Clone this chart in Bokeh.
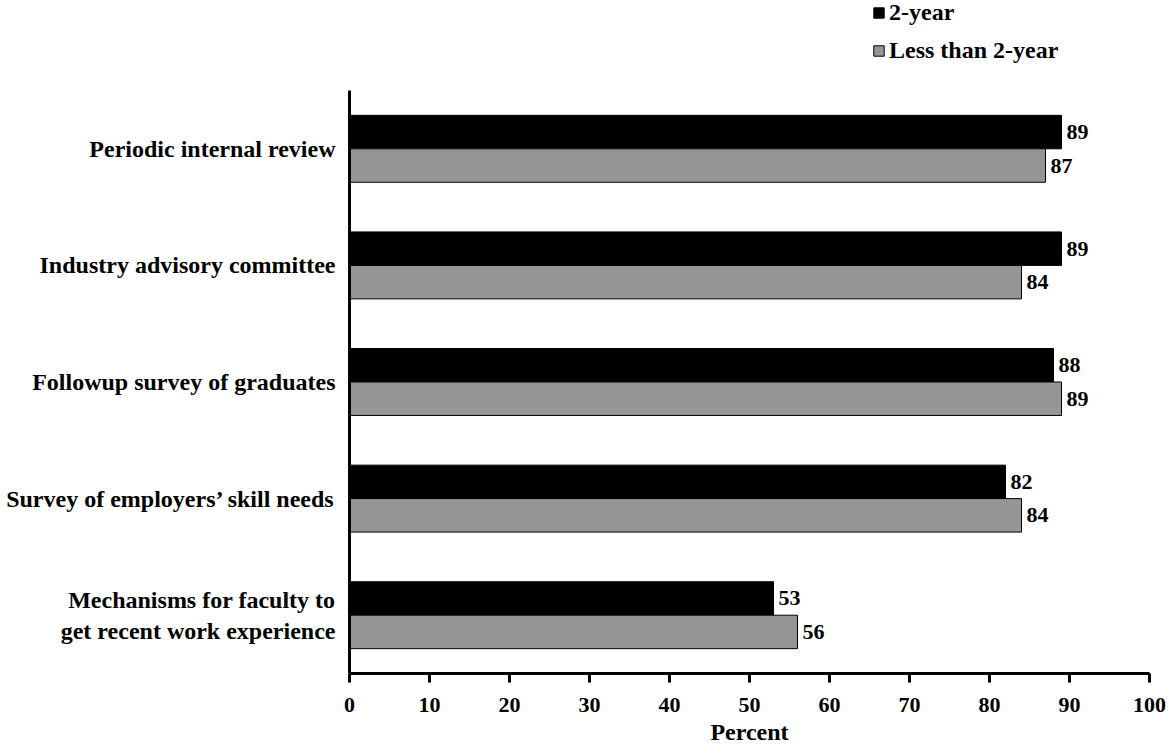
from bokeh.plotting import figure
from bokeh.models import Range1d, Legend, LegendItem, ColumnDataSource, FixedTicker
from bokeh.core.properties import value
from bokeh.embed import file_html
from bokeh.resources import INLINE

categories = [
    "Periodic internal review",
    "Industry advisory committee",
    "Followup survey of graduates",
    "Survey of employers\u2019 skill needs",
    "Mechanisms for faculty to\nget recent work experience",
]
two_year = [89, 89, 88, 82, 53]
less_than_two_year = [87, 84, 89, 84, 56]
series_names = ["2-year", "Less than 2-year"]
x_ticks = list(range(0, 101, 10))

FONT = "Liberation Serif"
FS = "24px"
FS_NUM = "22px"

n = len(categories)
pos = [n - 0.5 - i for i in range(n)]
bh = 0.287
off = bh / 2

src = ColumnDataSource(dict(
    pos=pos,
    ya=[v + off for v in pos],
    yb=[v - off for v in pos],
    a=two_year,
    b=less_than_two_year,
    a_lbl=[str(v) for v in two_year],
    b_lbl=[str(v) for v in less_than_two_year],
))

p = figure(
    width=1169, height=753,
    y_range=Range1d(0, n + 90 / 116.6), x_range=Range1d(0, 100),
    output_backend="svg", toolbar_location=None,
    min_border_left=349, min_border_right=20,
    min_border_top=0, min_border_bottom=80,
)
p.outline_line_color = None
p.xgrid.grid_line_color = None
p.ygrid.grid_line_color = None

r1 = p.hbar(y="ya", right="a", left=0, height=bh, source=src,
            fill_color="black", line_color="black", line_width=1)
r2 = p.hbar(y="yb", right="b", left=0, height=bh, source=src,
            fill_color="#969696", line_color="black", line_width=1)

for col, lbl, yc in (("a", "a_lbl", "ya"), ("b", "b_lbl", "yb")):
    p.text(x=col, y=yc, text=lbl, source=src,
           x_offset=5, text_baseline="middle", text_align="left",
           text_font=value(FONT), text_font_style="bold", text_font_size=FS_NUM,
           text_color="black")

# x axis
xa = p.xaxis[0]
xa.ticker = FixedTicker(ticks=x_ticks)
xa.axis_line_width = 3
xa.major_tick_line_width = 3
xa.major_tick_in = 0
xa.major_tick_out = 9
xa.minor_tick_line_color = None
xa.major_label_text_font = FONT
xa.major_label_text_font_style = "bold"
xa.major_label_text_font_size = FS_NUM
xa.major_label_text_color = "black"
xa.major_label_standoff = 15
xa.axis_label = "Percent"
xa.axis_label_text_font = FONT
xa.axis_label_text_font_style = "bold"
xa.axis_label_text_font_size = FS
xa.axis_label_text_color = "black"
xa.axis_label_standoff = 4

# y axis
ya = p.yaxis[0]
ya.ticker = FixedTicker(ticks=pos)
ya.major_label_overrides = {pv: c for pv, c in zip(pos, categories)}
ya.bounds = (0, n)
ya.axis_line_width = 3
ya.major_tick_line_color = None
ya.minor_tick_line_color = None
ya.major_label_text_font = FONT
ya.major_label_text_font_style = "bold"
ya.major_label_text_font_size = FS
ya.major_label_text_color = "black"
ya.major_label_standoff = 8
ya.major_label_text_align = "right"

legend = Legend(
    items=[LegendItem(label=series_names[0], renderers=[r1]),
           LegendItem(label=series_names[1], renderers=[r2])],
    location=(523, 609),
    orientation="vertical",
    glyph_width=13, glyph_height=13,
    label_text_font=FONT, label_text_font_style="bold",
    label_text_font_size=FS, label_text_color="black",
    label_height=26, label_standoff=4,
    spacing=11, padding=0, margin=0,
    border_line_color=None, background_fill_alpha=0,
)
p.add_layout(legend, "center")

open("out.html", "w").write(file_html(p, INLINE))
